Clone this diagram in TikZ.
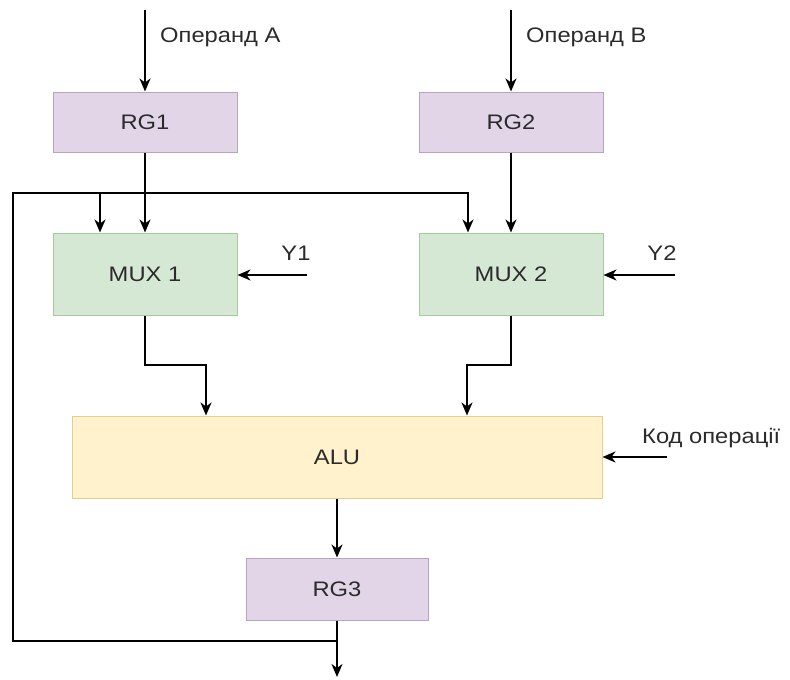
\documentclass[tikz,border=0pt]{standalone}
\usepackage{fontspec}
\setmainfont[FakeStretch=1.13]{Liberation Sans}
\usetikzlibrary{arrows.meta}
\definecolor{pfill}{HTML}{E1D5E7}\definecolor{pdraw}{HTML}{B9A3C4}
\definecolor{gfill}{HTML}{D5E8D4}\definecolor{gdraw}{HTML}{A6C99F}
\definecolor{yfill}{HTML}{FFF2CC}\definecolor{ydraw}{HTML}{E3CF8C}
\definecolor{txt}{HTML}{2B2B2B}
\tikzset{
  blk/.style={draw, line width=1pt, minimum height=60pt, minimum width=184pt, inner sep=0pt, text=txt, font=\fontsize{21}{25}\selectfont},
  reg/.style={blk, fill=pfill, draw=pdraw},
  mux/.style={blk, fill=gfill, draw=gdraw, minimum height=82pt},
  alu/.style={blk, fill=yfill, draw=ydraw, minimum height=82pt, minimum width=530pt},
  lbl/.style={text=txt, font=\fontsize{21}{25}\selectfont, inner sep=0pt},
  arr/.style={line width=1.8pt, -{Stealth[length=13pt,width=11pt,inset=4pt]}},
  ln/.style={line width=1.8pt}
}
\begin{document}
\begin{tikzpicture}[x=1pt,y=-1pt]
\useasboundingbox (0,0) rectangle (790,680);
\node[reg] (rg1) at (145,122) {RG1};
\node[reg] (rg2) at (511,122) {RG2};
\node[mux] (mux1) at (145,274) {MUX 1};
\node[mux] (mux2) at (511,274) {MUX 2};
\node[alu] (alu) at (337,457) {ALU};
\node[reg, minimum width=182pt, minimum height=62pt] (rg3) at (337,589) {RG3};

\coordinate (inA) at (145,10);
\coordinate (inB) at (511,10);
\coordinate (y1) at (307,275);
\coordinate (y2) at (675,275);
\coordinate (kop) at (667,457);
\coordinate (out) at (337,677);
\coordinate (fb1) at (337,641);
\coordinate (fb2) at (13,641);
\coordinate (fb3) at (13,193);
\coordinate (fb4) at (468,193);
\coordinate (br) at (100,193);
\coordinate (m1a) at (145,365);
\coordinate (m1b) at (206,365);
\coordinate (m2a) at (511,365);
\coordinate (m2b) at (467,365);

\node[lbl, anchor=west] (la) at (160,37) {Операнд А};
\node[lbl, anchor=west] (lb) at (526,37) {Операнд В};
\node[lbl] (ly1) at (296,253) {Y1};
\node[lbl] (ly2) at (662,253) {Y2};
\node[lbl, anchor=west] (lk) at (642,438) {Код операції};

\draw[arr] (inA) -- (rg1);
\draw[arr] (inB) -- (rg2);
\draw[arr] (rg1) -- (mux1);
\draw[arr] (rg2) -- (mux2);
\draw[arr] (y1) -- (y1 -| mux1.east);
\draw[arr] (y2) -- (y2 -| mux2.east);
\draw[arr] (kop) -- (alu.east);
\draw[arr] (mux1.south) -- (m1a) -- (m1b) -- (m1b |- alu.north);
\draw[arr] (mux2.south) -- (m2a) -- (m2b) -- (m2b |- alu.north);
\draw[arr] (alu) -- (rg3);
\draw[arr] (rg3.south) -- (out);
\draw[arr] (fb1) -- (fb2) -- (fb3) -- (fb4) -- (fb4 |- mux2.north);
\draw[arr] (br) -- (br |- mux1.north);
\end{tikzpicture}
\end{document}
